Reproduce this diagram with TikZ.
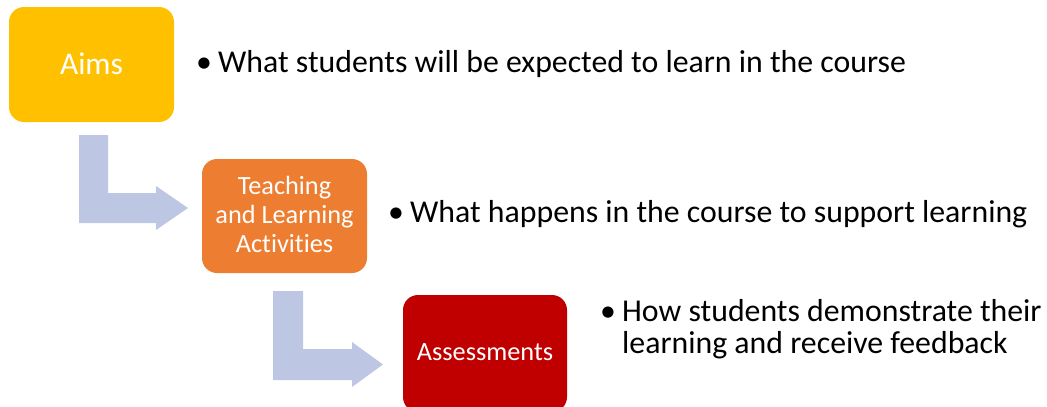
\documentclass[tikz,border=0pt]{standalone}
\usepackage{fontspec}
\setmainfont[Ligatures=NoCommon]{Carlito}
\definecolor{aimsc}{HTML}{FFC000}
\definecolor{teachc}{HTML}{ED7D31}
\definecolor{assessc}{HTML}{C00000}
\definecolor{arrowc}{HTML}{BDC7E3}
\begin{document}
\begin{tikzpicture}[x=1pt,y=-1pt,
  box/.style={rounded corners=15pt, inner sep=0pt, text=white, align=center,
    font=\fontsize{26.3}{29}\selectfont},
  bullettext/.style={anchor=base west, inner sep=0pt, align=left, text=black,
    font=\fontsize{31.8}{32}\selectfont},
  bentarrow/.style={fill=arrowc, draw=none}]
\useasboundingbox (0,0) rectangle (1047,407);
\clip (0,0) rectangle (1047,407);
% boxes
\path[fill=aimsc, rounded corners=15pt] (9,7) rectangle (174,122);
\node[box, anchor=base, font=\fontsize{31.5}{34}\selectfont] (aims) at (91.5,74) {Aims};
\path[fill=teachc, rounded corners=15pt] (202,159) rectangle (367,273);
\node[box, anchor=base] (teach) at (284.5,252) {Teaching\\and Learning\\Activities};
\path[fill=assessc, rounded corners=15pt] (403,295) rectangle (567,412);
\node[box, anchor=base] (assess) at (485,360) {Assessments};
% bent arrows
\coordinate (a1) at (79,135);
\coordinate (a2) at (273,291);
\path[bentarrow] (a1) -- ++(29,0) -- ++(0,58) -- ++(48,0) -- ++(0,-7) -- ++(32,22) -- ++(-32,22) -- ++(0,-7) -- ++(-77,0) -- cycle;
\path[bentarrow] (a2) -- ++(30,0) -- ++(0,58) -- ++(49,0) -- ++(0,-7) -- ++(31,22.5) -- ++(-31,22.5) -- ++(0,-7) -- ++(-79,0) -- cycle;
% bullet texts
\node[bullettext] (t1) at (196,72) {\makebox[22pt][l]{•}What students will be expected to learn in the course};
\node[bullettext] (t2) at (388,222) {\makebox[22pt][l]{•}What happens in the course to support learning};
\node[bullettext] (t3) at (600,353) {\makebox[22pt][l]{•}How students demonstrate their\\\hspace*{22pt}learning and receive feedback};
\end{tikzpicture}
\end{document}
